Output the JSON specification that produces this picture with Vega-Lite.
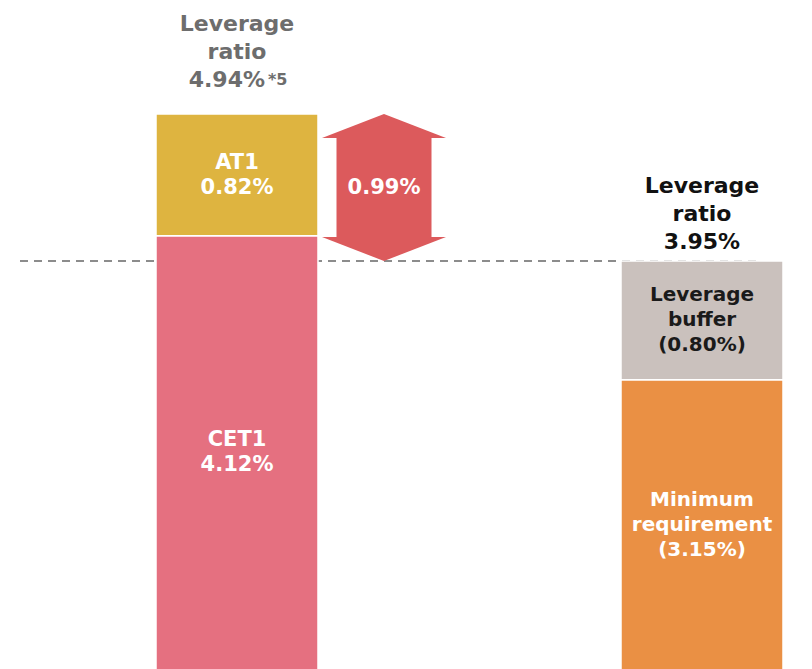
{
  "$schema": "https://vega.github.io/schema/vega-lite/v6.json",
  "width": 812,
  "height": 669,
  "autosize": {"type": "none"},
  "padding": 0,
  "background": "white",
  "config": {
    "view": {"stroke": null},
    "text": {"font": "DejaVu Sans", "fontWeight": "bold"}
  },
  "datasets": {
    "bars": [
      {"group": "current", "segment": "CET1", "value": 4.12, "label": ["CET1", "4.12%"]},
      {"group": "current", "segment": "AT1", "value": 0.82, "label": ["AT1", "0.82%"]},
      {"group": "required", "segment": "Minimum requirement", "value": 3.15, "label": ["Minimum", "requirement", "(3.15%)"]},
      {"group": "required", "segment": "Leverage buffer", "value": 0.80, "label": ["Leverage", "buffer", "(0.80%)"]}
    ],
    "arrow": [
      {"group": "diff", "from": 3.95, "to": 4.94, "label": "0.99%"}
    ],
    "totals": [
      {"group": "current", "total": 4.94, "title": ["Leverage", "ratio"], "pct": "4.94%", "note": "*5"},
      {"group": "required", "total": 3.95, "title": ["Leverage", "ratio", "3.95%"]}
    ]
  },
  "encoding": {
    "x": {
      "field": "group",
      "type": "nominal",
      "scale": {"type": "point", "domain": ["current", "diff", "gap", "required"], "range": [237, 702], "padding": 0},
      "axis": null
    }
  },
  "layer": [
    {
      "data": {"name": "arrow"},
      "mark": {"type": "rule", "color": "#8c8c8c", "strokeWidth": 2, "strokeDash": [8, 6], "xOffset": -217, "x2Offset": 60},
      "encoding": {
        "x": {"datum": "current", "type": "nominal"},
        "x2": {"datum": "required"},
        "y": {"field": "from", "type": "quantitative", "scale": {"domain": [1.202, 5.708]}, "axis": null}
      }
    },
    {
      "data": {"name": "bars"},
      "mark": {"type": "bar", "width": 162, "stroke": "white", "strokeWidth": 1.5, "clip": true},
      "encoding": {
        "y": {"field": "value", "type": "quantitative", "stack": "zero", "scale": {"domain": [1.202, 5.708]}, "axis": null},
        "color": {
          "field": "segment",
          "type": "nominal",
          "scale": {"domain": ["CET1", "AT1", "Minimum requirement", "Leverage buffer"], "range": ["#e57080", "#deb440", "#ea9044", "#cac1bd"]},
          "legend": null
        },
        "order": {"field": "segment", "sort": "descending"}
      }
    },
    {
      "data": {"name": "bars"},
      "mark": {"type": "text", "baseline": "middle", "align": "center", "lineHeight": 25, "dy": -12, "fontSize": 21, "color": "#ffffff"},
      "encoding": {
        "y": {"field": "value", "type": "quantitative", "stack": "zero", "bandPosition": 0.5, "scale": {"domain": [1.202, 5.708]}, "axis": null},
        "detail": {"field": "segment", "type": "nominal"},
        "order": {"field": "segment", "sort": "descending"},
        "text": {"condition": {"test": "datum.segment === 'AT1'", "field": "label"}, "value": ""}
      }
    },
    {
      "data": {"name": "bars"},
      "mark": {"type": "text", "baseline": "middle", "align": "center", "lineHeight": 25, "dy": -12, "fontSize": 21, "color": "#ffffff"},
      "encoding": {
        "y": {"field": "value", "type": "quantitative", "stack": "zero", "bandPosition": 0.647, "scale": {"domain": [1.202, 5.708]}, "axis": null},
        "detail": {"field": "segment", "type": "nominal"},
        "order": {"field": "segment", "sort": "descending"},
        "text": {"condition": {"test": "datum.segment === 'CET1'", "field": "label"}, "value": ""}
      }
    },
    {
      "data": {"name": "bars"},
      "mark": {"type": "text", "baseline": "middle", "align": "center", "lineHeight": 25, "dy": -25, "fontSize": 20, "color": "#1a1a1a"},
      "encoding": {
        "y": {"field": "value", "type": "quantitative", "stack": "zero", "bandPosition": 0.5, "scale": {"domain": [1.202, 5.708]}, "axis": null},
        "detail": {"field": "segment", "type": "nominal"},
        "order": {"field": "segment", "sort": "descending"},
        "text": {"condition": {"test": "datum.segment === 'Leverage buffer'", "field": "label"}, "value": ""}
      }
    },
    {
      "data": {"name": "bars"},
      "mark": {"type": "text", "baseline": "middle", "align": "center", "lineHeight": 25, "dy": -25, "fontSize": 20, "color": "#ffffff"},
      "encoding": {
        "y": {"field": "value", "type": "quantitative", "stack": "zero", "bandPosition": 0.69, "scale": {"domain": [1.202, 5.708]}, "axis": null},
        "detail": {"field": "segment", "type": "nominal"},
        "order": {"field": "segment", "sort": "descending"},
        "text": {"condition": {"test": "datum.segment === 'Minimum requirement'", "field": "label"}, "value": ""}
      }
    },
    {
      "data": {"name": "arrow"},
      "mark": {"type": "bar", "width": 95, "color": "#dc5a5c", "yOffset": -24, "y2Offset": 24, "xOffset": -8},
      "encoding": {
        "y": {"field": "from", "type": "quantitative", "scale": {"domain": [1.202, 5.708]}, "axis": null},
        "y2": {"field": "to"}
      }
    },
    {
      "data": {"name": "arrow"},
      "mark": {"type": "point", "shape": "M0,0L1,0.387L-1,0.387Z", "size": 15376, "filled": true, "opacity": 1, "color": "#dc5a5c", "strokeWidth": 0, "xOffset": -8},
      "encoding": {
        "y": {"field": "to", "type": "quantitative", "scale": {"domain": [1.202, 5.708]}, "axis": null}
      }
    },
    {
      "data": {"name": "arrow"},
      "mark": {"type": "point", "shape": "M0,0L1,-0.387L-1,-0.387Z", "size": 15376, "filled": true, "opacity": 1, "color": "#dc5a5c", "strokeWidth": 0, "xOffset": -8},
      "encoding": {
        "y": {"field": "from", "type": "quantitative", "scale": {"domain": [1.202, 5.708]}, "axis": null}
      }
    },
    {
      "data": {"name": "arrow"},
      "mark": {"type": "text", "baseline": "middle", "align": "center", "dy": 74, "dx": -8, "fontSize": 21, "color": "#ffffff"},
      "encoding": {
        "y": {"field": "to", "type": "quantitative", "scale": {"domain": [1.202, 5.708]}, "axis": null},
        "text": {"field": "label"}
      }
    },
    {
      "data": {"name": "totals"},
      "transform": [{"filter": "datum.group === 'current'"}],
      "mark": {"type": "text", "baseline": "alphabetic", "align": "center", "dy": -83, "fontSize": 22, "lineHeight": 28, "color": "#6d6d6d"},
      "encoding": {
        "y": {"field": "total", "type": "quantitative", "scale": {"domain": [1.202, 5.708]}, "axis": null},
        "text": {"field": "title"}
      }
    },
    {
      "data": {"name": "totals"},
      "transform": [{"filter": "datum.group === 'current'"}],
      "mark": {"type": "text", "baseline": "alphabetic", "align": "right", "dx": 28, "dy": -27, "fontSize": 22, "color": "#6d6d6d"},
      "encoding": {
        "y": {"field": "total", "type": "quantitative", "scale": {"domain": [1.202, 5.708]}, "axis": null},
        "text": {"field": "pct"}
      }
    },
    {
      "data": {"name": "totals"},
      "transform": [{"filter": "datum.group === 'current'"}],
      "mark": {"type": "text", "baseline": "alphabetic", "align": "left", "dx": 31, "dy": -29, "fontSize": 16, "color": "#6d6d6d"},
      "encoding": {
        "y": {"field": "total", "type": "quantitative", "scale": {"domain": [1.202, 5.708]}, "axis": null},
        "text": {"field": "note"}
      }
    },
    {
      "data": {"name": "totals"},
      "transform": [{"filter": "datum.group === 'required'"}],
      "mark": {"type": "text", "baseline": "alphabetic", "align": "center", "dy": -68, "fontSize": 22, "lineHeight": 28, "color": "#111111"},
      "encoding": {
        "y": {"field": "total", "type": "quantitative", "scale": {"domain": [1.202, 5.708]}, "axis": null},
        "text": {"field": "title"}
      }
    }
  ]
}
